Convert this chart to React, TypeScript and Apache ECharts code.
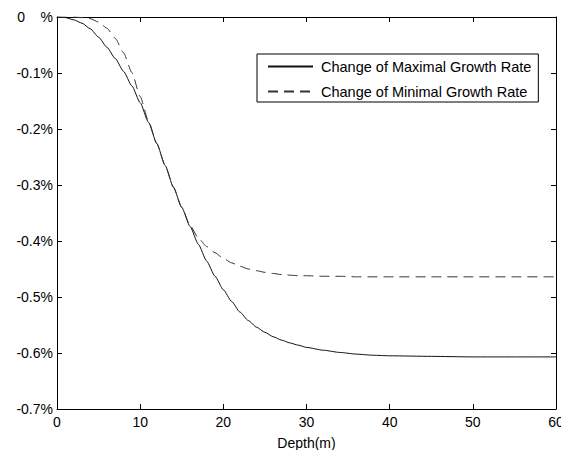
import React, { useEffect, useRef } from "react";
import * as echarts from "echarts";

const depths = [0,1,2,3,4,5,6,7,8,9,10,11,12,13,14,15,16,17,18,19,20,21,22,23,24,25,26,27,28,29,30,32,34,36,38,40,45,50,55,60];
const maxRate = [0,-0.001,-0.005,-0.011,-0.021,-0.036,-0.054,-0.074,-0.097,-0.123,-0.153,-0.188,-0.226,-0.265,-0.304,-0.340,-0.374,-0.406,-0.436,-0.463,-0.487,-0.508,-0.527,-0.542,-0.554,-0.563,-0.571,-0.577,-0.582,-0.586,-0.590,-0.595,-0.599,-0.602,-0.604,-0.605,-0.606,-0.607,-0.607,-0.607];
const minRate = [0,0,0,-0.001,-0.003,-0.009,-0.020,-0.038,-0.064,-0.099,-0.142,-0.186,-0.226,-0.265,-0.304,-0.340,-0.372,-0.395,-0.410,-0.421,-0.431,-0.439,-0.445,-0.450,-0.453,-0.456,-0.458,-0.460,-0.461,-0.462,-0.462,-0.463,-0.463,-0.464,-0.464,-0.464,-0.464,-0.464,-0.464,-0.464];
const seriesNames = ["Change of Maximal Growth Rate", "Change of Minimal Growth Rate"];
const xAxisName = "Depth(m)";

const FONT = "'Liberation Sans', Arial, sans-serif";

export default function App() {
  const ref = useRef<HTMLDivElement>(null);
  useEffect(() => {
    if (!ref.current) return;
    const chart = echarts.init(ref.current, null, { renderer: "svg" });
    const axisLine = { show: true, onZero: false, lineStyle: { color: "#000", width: 1 } };
    const tick = { show: true, inside: true, length: 5, lineStyle: { color: "#000", width: 1 } };
    const yFmt = (v: number) => (Math.abs(v) < 1e-9 ? "0\u00a0\u00a0\u00a0\u00a0%" : v.toFixed(1) + "%");
    chart.setOption({
      animation: false,
      backgroundColor: "#fff",
      grid: { left: 57, top: 17, right: 5, bottom: 41, containLabel: false, outerBoundsMode: "none" },
      legend: {
        orient: "vertical",
        left: 257,
        top: 54,
        padding: [5, 7, 3, 10],
        itemGap: 10,
        itemWidth: 45,
        itemHeight: 14,
        borderColor: "#000",
        borderWidth: 1,
        backgroundColor: "#fff",
        itemStyle: { opacity: 0 },
        textStyle: { fontSize: 14.5, color: "#000", fontFamily: FONT, padding: [0, 0, 0, 3] },
        data: seriesNames,
      },
      xAxis: [
        {
          type: "value",
          min: 0,
          max: 60,
          interval: 10,
          position: "bottom",
          name: xAxisName,
          nameLocation: "middle",
          nameGap: 27,
          nameTextStyle: { fontSize: 14, color: "#000", fontFamily: FONT },
          axisLine,
          axisTick: tick,
          splitLine: { show: false },
          axisLabel: { fontSize: 14, color: "#000", fontFamily: FONT, margin: 6, hideOverlap: false },
        },
        {
          type: "value",
          min: 0,
          max: 60,
          interval: 10,
          position: "top",
          axisLine,
          axisTick: tick,
          splitLine: { show: false },
          axisLabel: { show: false },
        },
      ],
      yAxis: [
        {
          type: "value",
          min: -0.7,
          max: 0,
          interval: 0.1,
          position: "left",
          axisLine,
          axisTick: tick,
          splitLine: { show: false },
          axisLabel: { fontSize: 14, color: "#000", fontFamily: FONT, margin: 4, formatter: yFmt },
        },
        {
          type: "value",
          min: -0.7,
          max: 0,
          interval: 0.1,
          position: "right",
          axisLine,
          axisTick: tick,
          splitLine: { show: false },
          axisLabel: { show: false },
        },
      ],
      series: [
        {
          name: seriesNames[0],
          type: "line",
          data: depths.map((d, i) => [d, maxRate[i]]),
          showSymbol: false,
          symbol: "none",
          smooth: 0.2,
          smoothMonotone: "x",
          lineStyle: { color: "#111", width: 1, type: "solid" },
          itemStyle: { color: "#111" },
        },
        {
          name: seriesNames[1],
          type: "line",
          data: depths.map((d, i) => [d, minRate[i]]),
          showSymbol: false,
          symbol: "none",
          smooth: 0.2,
          smoothMonotone: "x",
          lineStyle: { color: "#333", width: 1, type: [10, 6] },
          itemStyle: { color: "#333" },
        },
      ],
    });
    return () => chart.dispose();
  }, []);
  return (
    <div
      ref={ref}
      style={{ position: "fixed", left: 0, top: 0, width: 561, height: 450, background: "#fff" }}
    />
  );
}
